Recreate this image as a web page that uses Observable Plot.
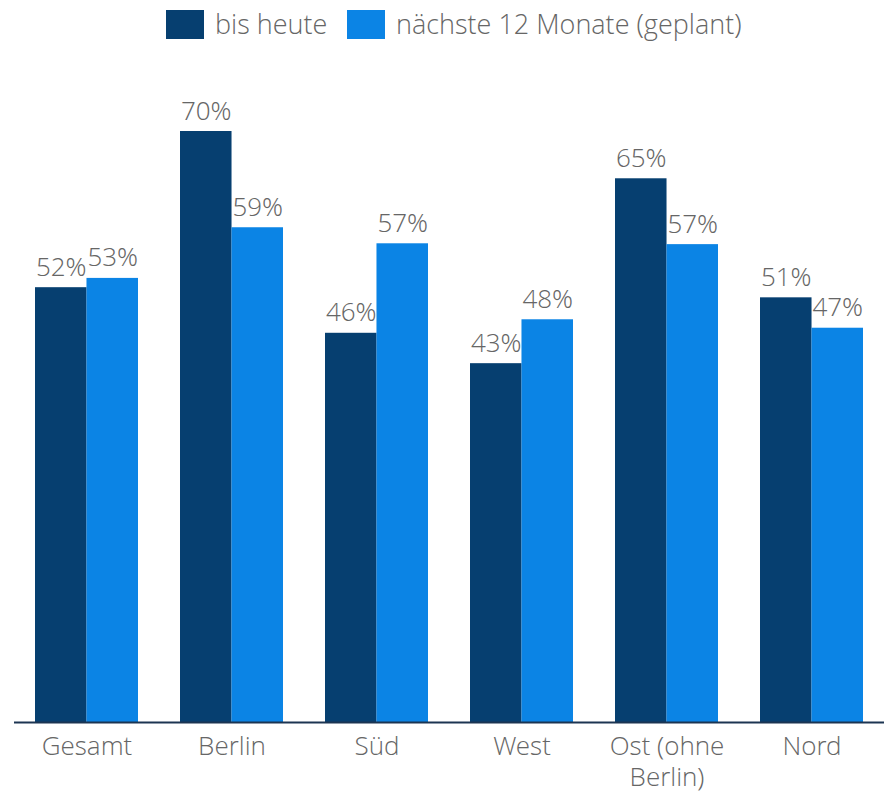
<!DOCTYPE html>
<html>
<head>
<meta charset="utf-8">
<script src="https://cdn.jsdelivr.net/npm/d3@7"></script>
<script src="https://cdn.jsdelivr.net/npm/@observablehq/plot@0.6"></script>
<style>
  body { margin: 0; background: #fff; font-family: "Open Sans Light", "Open Sans", sans-serif; }
  #legend { height: 50px; position: relative; font-weight: 300; font-size: 27px; color: #666; }
  .sw { position: absolute; top: 10px; width: 38px; height: 29px; }
  .lt { position: absolute; top: 8px; white-space: nowrap; line-height: 32px; }
</style>
</head>
<body>
<div id="legend"></div>
<div id="chart"></div>
<script>
const regions = ["Gesamt", "Berlin", "Süd", "West", "Ost (ohne Berlin)", "Nord"];
const series = ["bis heute", "nächste 12 Monate (geplant)"];
// bar heights (percent)
const bisHeute = [51.5, 70, 46.1, 42.5, 64.4, 50.3];
const naechste12 = [52.6, 58.6, 56.7, 47.7, 56.6, 46.7];
// value labels as printed
const bisHeuteLabels = ["52%", "70%", "46%", "43%", "65%", "51%"];
const naechste12Labels = ["53%", "59%", "57%", "48%", "57%", "47%"];
const colors = ["#063f70", "#0b84e5"];

const data = [];
regions.forEach((r, i) => {
  data.push({region: r, series: series[0], value: bisHeute[i], label: bisHeuteLabels[i]});
  data.push({region: r, series: series[1], value: naechste12[i], label: naechste12Labels[i]});
});

// legend
const legend = document.getElementById("legend");
legend.innerHTML = `
  <div class="sw" style="left:166px;background:${colors[0]}"></div>
  <div class="lt" style="left:215px">${series[0]}</div>
  <div class="sw" style="left:347px;background:${colors[1]}"></div>
  <div class="lt" style="left:396px">${series[1]}</div>`;

const W = 887, mL = 14, mR = 3;
const padIn = 0.29, padOut = 0.145;
const step = (W - mL - mR) / (regions.length - padIn + 2 * padOut);
const bw = step * (1 - padIn);
const half = bw / 2;

const fam = "'Open Sans Light', 'Open Sans', sans-serif";
const fontStyle = {fontFamily: fam, fontWeight: 300};
const s0 = data.filter(d => d.series === series[0]);
const s1 = data.filter(d => d.series === series[1]);

const chart = Plot.plot({
  width: W,
  height: 744,
  marginLeft: mL,
  marginRight: mR,
  marginTop: 81,
  marginBottom: 72,
  style: {fontFamily: fam, fontWeight: 300, color: "#666", background: "#fff"},
  x: {domain: regions, paddingInner: padIn, paddingOuter: padOut, align: 0.5, label: null},
  y: {domain: [0, 70], axis: null},
  marks: [
    Plot.barY(s0, {x: "region", y: "value", fill: colors[0], insetLeft: 0, insetRight: half}),
    Plot.barY(s1, {x: "region", y: "value", fill: colors[1], insetLeft: half, insetRight: 0}),
    Plot.text(s0, {x: "region", y: "value", text: "label", dx: -half / 2, dy: -12, lineAnchor: "bottom", fontSize: 26, fill: "#666", ...fontStyle}),
    Plot.text(s1, {x: "region", y: "value", text: "label", dx: half / 2, dy: -12, lineAnchor: "bottom", fontSize: 26, fill: "#666", ...fontStyle}),
    Plot.ruleY([0], {stroke: "#1c3552", strokeWidth: 2}),
    Plot.axisX({tickSize: 0, tickPadding: 11, fontSize: 26, lineHeight: 1.19,
      tickFormat: d => d === "Ost (ohne Berlin)" ? "Ost (ohne\nBerlin)" : d, fill: "#666", label: null})
  ]
});
document.getElementById("chart").appendChild(chart);
</script>
</body>
</html>
